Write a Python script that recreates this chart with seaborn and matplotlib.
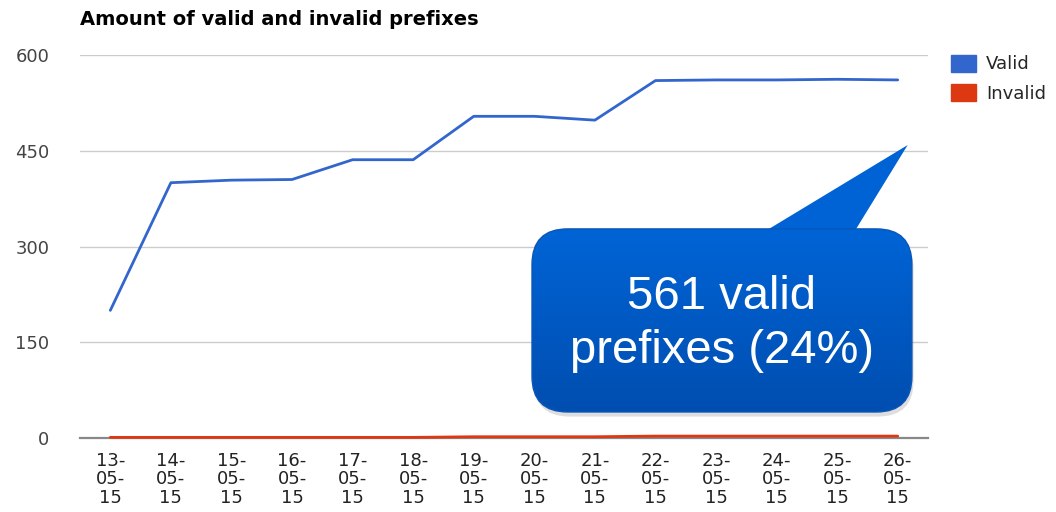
import numpy as np
import pandas as pd
import matplotlib
matplotlib.use("Agg")
import matplotlib.pyplot as plt
from matplotlib.patches import Patch, FancyBboxPatch, Polygon
import seaborn as sns

# datos
dates = ["13-05-15", "14-05-15", "15-05-15", "16-05-15", "17-05-15", "18-05-15", "19-05-15",
         "20-05-15", "21-05-15", "22-05-15", "23-05-15", "24-05-15", "25-05-15", "26-05-15"]
valid = [200, 400, 404, 405, 436, 436, 504, 504, 498, 560, 561, 561, 562, 561]
invalid = [1, 1, 1, 1, 1, 1, 2, 2, 2, 3, 3, 3, 3, 3]
callout_text = "561 valid\nprefixes (24%)"

BLUE = "#3366cc"
RED = "#dc3912"

sns.set_style("white")
plt.rcParams['font.family'] = ['DejaVu Sans']

df = pd.DataFrame({
    'fecha': dates * 2,
    'cantidad': valid + invalid,
    'serie': ['Valid'] * len(dates) + ['Invalid'] * len(dates),
})
df['x'] = list(range(len(dates))) * 2

fig = plt.figure(figsize=(10.56, 5.12), dpi=100)
ax = fig.add_axes([0.0758, 0.1445, 0.803, 0.748])

sns.lineplot(data=df, x='x', y='cantidad', hue='serie', palette={'Valid': BLUE, 'Invalid': RED},
             linewidth=2.0, legend=False, ax=ax, clip_on=False, zorder=3)

ax.set_xticks(range(len(dates)))
ax.set_xticklabels([d.replace('-', '-\n', 2) for d in dates], linespacing=1.03)
ax.set_yticks([0, 150, 300, 450, 600])
ax.tick_params(axis='x', labelsize=13, colors='#222222', length=0, pad=10)
ax.tick_params(axis='y', labelsize=13, colors='#444444', length=0, pad=22)
ax.set_xlabel('')
ax.set_ylabel('')
ax.grid(axis='y', color='#cccccc', linewidth=1)
for s in ['top', 'right', 'left']:
    ax.spines[s].set_visible(False)
ax.spines['bottom'].set_color('#888888')
ax.spines['bottom'].set_linewidth(1.6)

fig.text(0.0758, 0.962, 'Amount of valid and invalid prefixes', fontsize=14, fontweight='bold',
         color='#000000', va='center', ha='left')

handles = [Patch(facecolor=BLUE, edgecolor=BLUE), Patch(facecolor=RED, edgecolor=RED)]
fig.legend(handles, ['Valid', 'Invalid'], loc='upper left', bbox_to_anchor=(0.901, 0.893),
           frameon=False, fontsize=13, handlelength=1.35, handleheight=1.05, handletextpad=0.55,
           labelspacing=0.6, borderaxespad=0, borderpad=0)

# globo de texto (coordenadas de ejes)
bx, by, bw, bh = 0.533, 0.068, 0.448, 0.478
asp = 848 / 383
shadow = FancyBboxPatch((bx + 0.002, by - 0.012), bw, bh, transform=ax.transAxes,
                        boxstyle='round,pad=0,rounding_size=0.042', mutation_aspect=asp,
                        fc='#000000', ec='none', alpha=0.13, zorder=4, clip_on=False)
ax.add_patch(shadow)
pointer = Polygon([(0.793, 0.52), (0.908, 0.52), (0.976, 0.765)], closed=True,
                  transform=ax.transAxes, fc='#0063d5', ec='none', zorder=5, clip_on=False)
ax.add_patch(pointer)
box = FancyBboxPatch((bx, by), bw, bh, transform=ax.transAxes,
                     boxstyle='round,pad=0,rounding_size=0.042', mutation_aspect=asp,
                     fc='none', ec='#0a56b8', lw=1, zorder=6, clip_on=False)
ax.add_patch(box)
grad = np.linspace(0, 1, 100).reshape(-1, 1)
cmap = matplotlib.colors.LinearSegmentedColormap.from_list('g', ['#004eb0', '#0064d6'])
img = ax.imshow(grad, cmap=cmap, origin='lower', extent=(bx, bx + bw, by, by + bh),
                transform=ax.transAxes, aspect='auto', zorder=5.5, clip_on=True)
img.set_clip_path(box)
ax.text(bx + bw / 2, by + bh / 2 - 0.01, callout_text, transform=ax.transAxes, fontsize=34,
        family='Liberation Sans', color='white', ha='center', va='center', linespacing=1.3, zorder=7)

ax.set_xlim(-0.5, len(dates) - 0.5)
ax.set_ylim(0, 600)

fig.savefig('out.png', dpi=100)
